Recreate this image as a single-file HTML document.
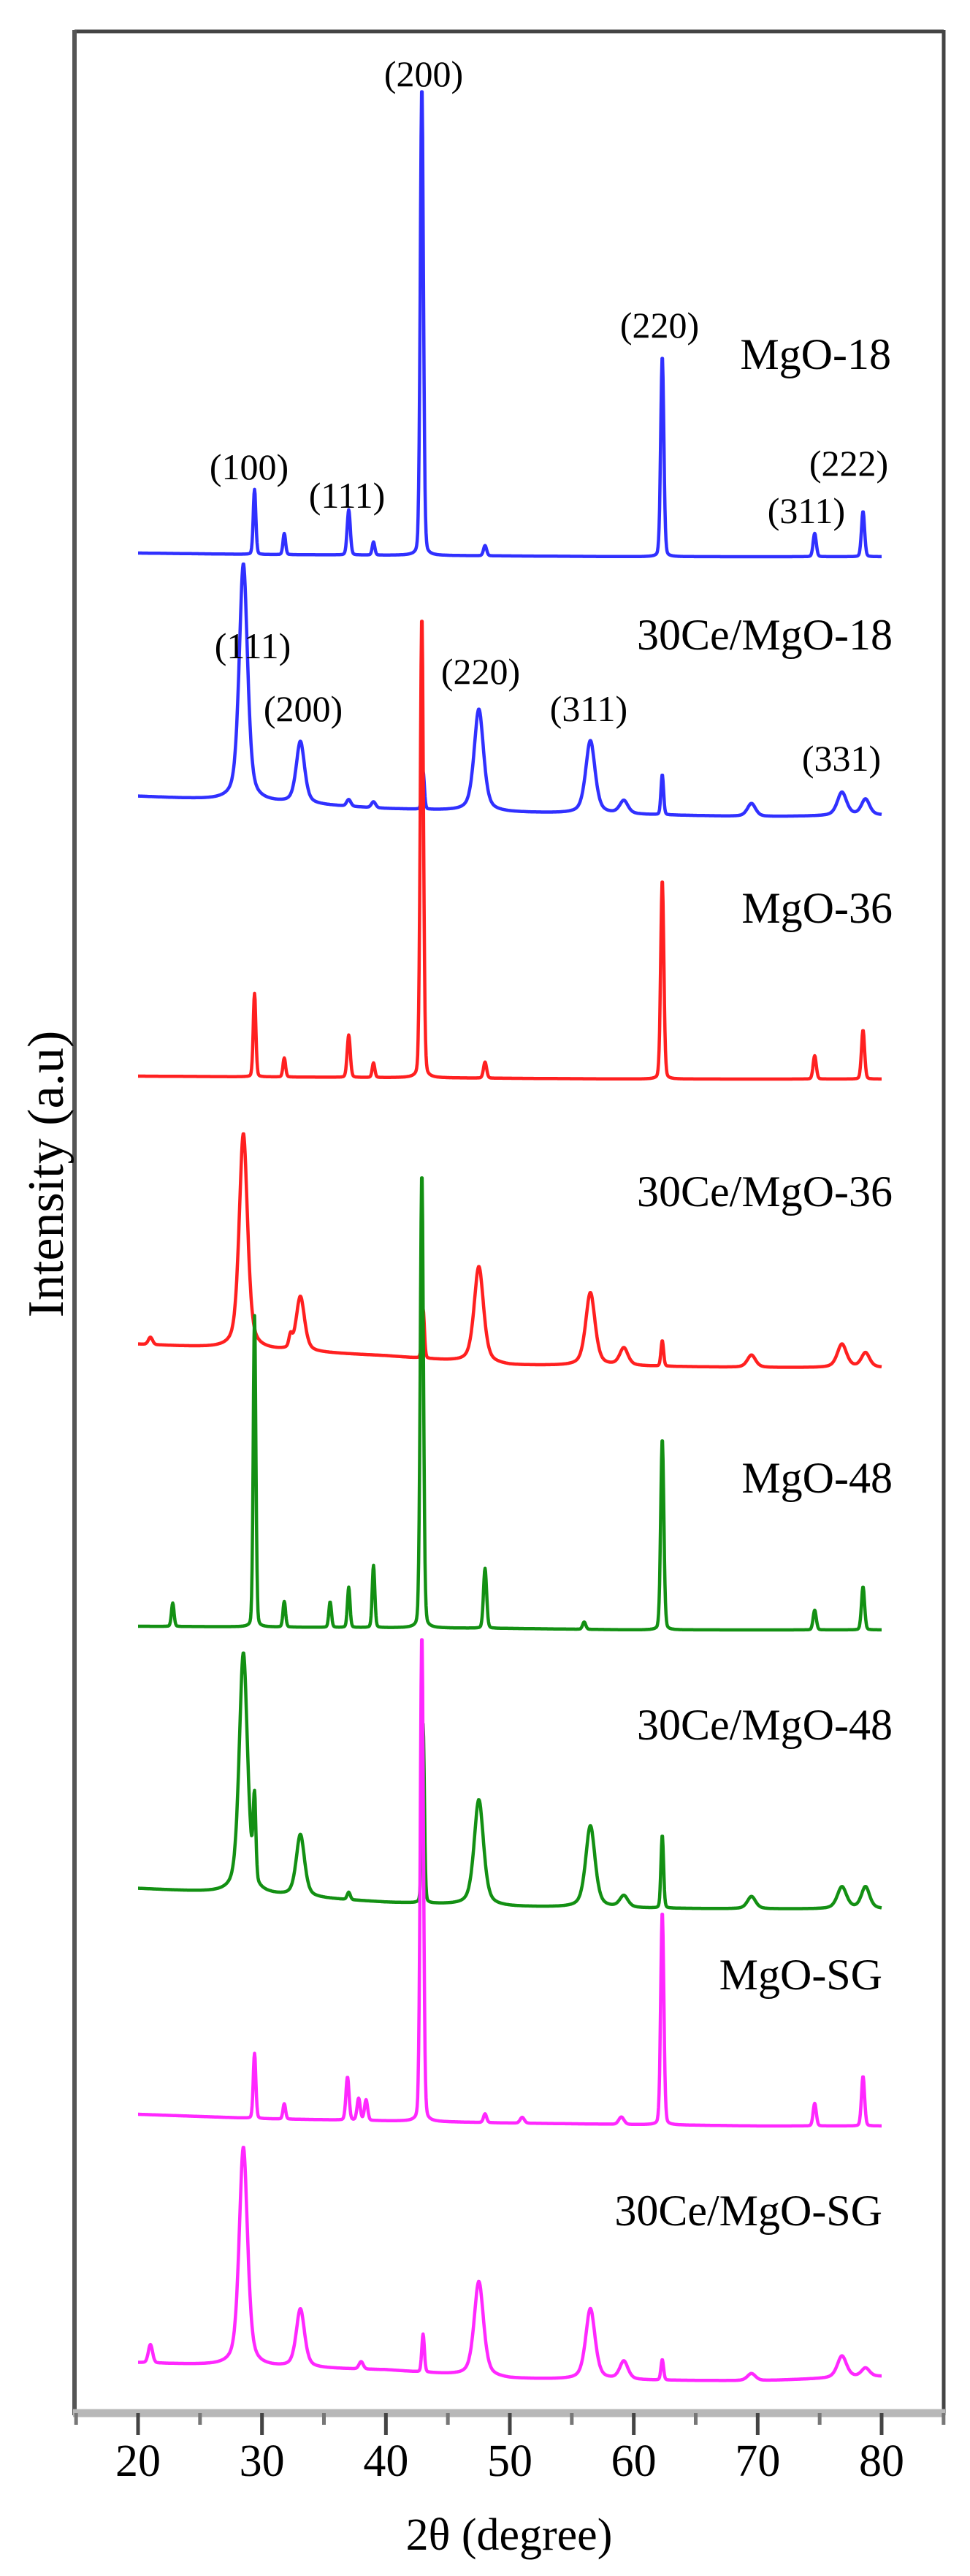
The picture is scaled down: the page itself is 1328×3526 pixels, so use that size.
<!DOCTYPE html>
<html><head><meta charset="utf-8">
<style>
html,body{margin:0;padding:0;background:#fff;}
svg{display:block;}
text{font-family:"Liberation Serif",serif;fill:#000;}
</style></head>
<body>
<svg id="chart" width="1328" height="3526" viewBox="0 0 1328 3526" xmlns="http://www.w3.org/2000/svg">
  <rect x="0" y="0" width="1328" height="3526" fill="#fff"/>
  <g id="series"></g>
  <g id="frame">
    <line x1="102" y1="43" x2="1292" y2="43" stroke="#444" stroke-width="5"/>
    <line x1="102" y1="41" x2="102" y2="3306" stroke="#555" stroke-width="6"/>
    <line x1="1292" y1="41" x2="1292" y2="3306" stroke="#444" stroke-width="5"/>
    <line x1="100" y1="3303" x2="1294" y2="3303" stroke="#b8b8b8" stroke-width="11"/>
  </g>
  <g id="xaxis"></g>
  <text x="697" y="3490" font-size="62" text-anchor="middle">2θ (degree)</text>
  <text transform="translate(86,1607) rotate(-90)" font-size="70" text-anchor="middle">Intensity (a.u)</text>
  <g id="labels">
    <text x="1220" y="505" font-size="60" text-anchor="end">MgO-18</text>
    <text x="1222" y="889" font-size="60" text-anchor="end">30Ce/MgO-18</text>
    <text x="1222" y="1263" font-size="60" text-anchor="end">MgO-36</text>
    <text x="1222" y="1651" font-size="60" text-anchor="end">30Ce/MgO-36</text>
    <text x="1222" y="2043" font-size="60" text-anchor="end">MgO-48</text>
    <text x="1222" y="2381" font-size="60" text-anchor="end">30Ce/MgO-48</text>
    <text x="1208" y="2723" font-size="60" text-anchor="end">MgO-SG</text>
    <text x="1208" y="3046" font-size="60" text-anchor="end">30Ce/MgO-SG</text>
  </g>
  <g id="hkl" font-size="50">
    <text x="580" y="118" text-anchor="middle" font-size="50">(200)</text>
    <text x="903" y="462" text-anchor="middle" font-size="50">(220)</text>
    <text x="341" y="656" text-anchor="middle" font-size="50">(100)</text>
    <text x="475" y="695" text-anchor="middle" font-size="50">(111)</text>
    <text x="1104" y="716" text-anchor="middle" font-size="50">(311)</text>
    <text x="1162" y="651" text-anchor="middle" font-size="50">(222)</text>
    <text x="346" y="901" text-anchor="middle" font-size="50">(111)</text>
    <text x="415" y="987" text-anchor="middle" font-size="50">(200)</text>
    <text x="658" y="936" text-anchor="middle" font-size="50">(220)</text>
    <text x="806" y="987" text-anchor="middle" font-size="50">(311)</text>
    <text x="1152" y="1055" text-anchor="middle" font-size="50">(331)</text>
  </g>
</svg>
<script>
// x-axis ticks
const majorTicks = [20, 30, 40, 50, 60, 70, 80];
const minorTicks = [15, 25, 35, 45, 55, 65, 75, 85];
// stacking offsets (a.u.) and background levels at 20,30,...,80
const bgX = [20, 30, 40, 50, 60, 70, 80];
const offsets = [2541, 2185, 1826, 1431, 1072, 690, 393, 44];
const colors = ['#3030ff', '#3030ff', '#ff2020', '#ff2020', '#139013', '#139013', '#ff28ff', '#ff28ff'];
const names = ['mgo-18', '30ce-mgo-18', 'mgo-36', '30ce-mgo-36', 'mgo-48', '30ce-mgo-48', 'mgo-sg', '30ce-mgo-sg'];
const bg0 = [5, 3, 2, 1, 0, 0, 0];
const bg1 = [28, 20, 11, 6, 3, 0, 2];
const bg2 = [4, 3, 2, 1, 0, 0, 0];
const bg3 = [32, 24, 16, 3, 2, 0, 0];
const bg4 = [5, 4, 3, 2, 0, 0, 0];
const bg5 = [28, 19, 9, 3, 1, 0, 0];
const bg6 = [16, 10, 7, 4, 2, 0, 0];
const bg7 = [25, 19, 15, 3, 1, 0, 6];
// peak positions (deg), heights (a.u.), widths (deg)
const pos0 = [29.4, 31.8, 37.0, 39.0, 42.9, 48.0, 62.3, 74.6, 78.5];
const hgt0 = [89, 29, 62, 18, 643, 14, 275, 32, 62];
const wid0 = [0.25, 0.25, 0.3, 0.25, 0.3, 0.3, 0.3, 0.3, 0.3];
const pos1 = [28.5, 33.1, 37.0, 39.0, 43.0, 47.5, 56.5, 59.2, 62.3, 69.5, 76.8, 78.7];
const hgt1 = [325, 85, 9, 8, 52, 140, 100, 18, 55, 18, 32, 22];
const wid1 = [0.8, 0.8, 0.4, 0.4, 0.25, 0.9, 0.9, 0.8, 0.25, 0.8, 0.9, 0.8];
const pos2 = [29.4, 31.8, 37.0, 39.0, 42.9, 48.0, 62.3, 74.6, 78.5];
const hgt2 = [114, 26, 58, 20, 633, 22, 273, 32, 67];
const wid2 = [0.25, 0.25, 0.3, 0.25, 0.3, 0.3, 0.3, 0.3, 0.3];
const pos3 = [21.0, 28.5, 32.3, 33.1, 43.0, 47.5, 56.5, 59.2, 62.3, 69.5, 76.8, 78.7];
const hgt3 = [10, 295, 15, 75, 68, 132, 100, 24, 35, 17, 32, 20];
const wid3 = [0.4, 0.8, 0.3, 0.8, 0.25, 0.9, 0.9, 0.8, 0.25, 0.8, 0.9, 0.8];
const pos4 = [22.8, 29.4, 31.8, 35.5, 37.0, 39.0, 42.9, 48.0, 56.0, 62.3, 74.6, 78.5];
const hgt4 = [32, 426, 35, 35, 55, 85, 624, 82, 10, 262, 27, 59];
const wid4 = [0.25, 0.25, 0.25, 0.25, 0.25, 0.25, 0.3, 0.3, 0.3, 0.3, 0.3, 0.3];
const pos5 = [28.5, 29.4, 33.1, 37.0, 43.0, 47.5, 56.5, 59.2, 62.3, 69.5, 76.8, 78.7];
const hgt5 = [330, 110, 85, 10, 245, 145, 112, 16, 100, 17, 30, 30];
const wid5 = [0.8, 0.25, 0.8, 0.3, 0.25, 0.9, 0.9, 0.8, 0.25, 0.8, 0.9, 0.8];
const pos6 = [29.4, 31.8, 36.9, 37.8, 38.4, 42.9, 48.0, 51.0, 59.0, 62.3, 74.6, 78.5];
const hgt6 = [89, 21, 59, 30, 28, 668, 12, 8, 10, 292, 31, 68];
const wid6 = [0.25, 0.25, 0.3, 0.3, 0.3, 0.3, 0.3, 0.4, 0.5, 0.3, 0.3, 0.3];
const pos7 = [21.0, 28.5, 33.1, 38.0, 43.0, 47.5, 56.5, 59.2, 62.3, 69.5, 76.8, 78.7];
const hgt7 = [25, 300, 80, 10, 52, 130, 97, 25, 28, 10, 30, 12];
const wid7 = [0.4, 0.8, 0.8, 0.4, 0.25, 0.9, 0.9, 0.8, 0.25, 0.8, 0.9, 0.8];

const bgs = [bg0, bg1, bg2, bg3, bg4, bg5, bg6, bg7];
const poss = [pos0, pos1, pos2, pos3, pos4, pos5, pos6, pos7];
const hgts = [hgt0, hgt1, hgt2, hgt3, hgt4, hgt5, hgt6, hgt7];
const wids = [wid0, wid1, wid2, wid3, wid4, wid5, wid6, wid7];

const NS = 'http://www.w3.org/2000/svg';
function xScale(d) { return 189 + (d - 20) * (1207 - 189) / 60; }
function yScale(v) { return 3303 - v; }

function bgAt(bg, x) {
  for (let i = 0; i < bgX.length - 1; i++) {
    if (x <= bgX[i + 1]) {
      const t = (x - bgX[i]) / (bgX[i + 1] - bgX[i]);
      return bg[i] + t * (bg[i + 1] - bg[i]);
    }
  }
  return bg[bg.length - 1];
}
function profile(s, x) {
  let v = bgAt(bgs[s], x);
  const p = poss[s], h = hgts[s], w = wids[s];
  for (let i = 0; i < p.length; i++) {
    const hw = w[i] / 2;
    const d = (x - p[i]) / hw;
    const g = Math.exp(-0.693 * d * d);
    const l = 1 / (1 + d * d);
    const eta = w[i] > 0.5 ? 0.5 : 0.15;
    v += h[i] * (eta * l + (1 - eta) * g);
  }
  return v;
}

const sg = document.getElementById('series');
for (let s = 0; s < offsets.length; s++) {
  let d = '';
  for (let x = 20; x <= 80.001; x += 0.04) {
    const px = xScale(x), py = yScale(offsets[s] + profile(s, x));
    d += (d ? 'L' : 'M') + px.toFixed(1) + ' ' + py.toFixed(1);
  }
  const path = document.createElementNS(NS, 'path');
  path.setAttribute('d', d);
  path.setAttribute('fill', 'none');
  path.setAttribute('stroke', colors[s]);
  path.setAttribute('stroke-width', '4.5');
  path.setAttribute('stroke-linejoin', 'round');
  
  
  sg.appendChild(path);
}

const xa = document.getElementById('xaxis');
majorTicks.forEach(function (t) {
  const ln = document.createElementNS(NS, 'line');
  ln.setAttribute('x1', xScale(t)); ln.setAttribute('x2', xScale(t));
  ln.setAttribute('y1', 3303); ln.setAttribute('y2', 3333);
  ln.setAttribute('stroke', '#444'); ln.setAttribute('stroke-width', '5');
  
  
  xa.appendChild(ln);
  const tx = document.createElementNS(NS, 'text');
  tx.setAttribute('x', xScale(t)); tx.setAttribute('y', 3389);
  tx.setAttribute('font-size', '62'); tx.setAttribute('text-anchor', 'middle');
  tx.textContent = String(t);
  
  
  xa.appendChild(tx);
});
minorTicks.forEach(function (t) {
  const ln = document.createElementNS(NS, 'line');
  ln.setAttribute('x1', xScale(t)); ln.setAttribute('x2', xScale(t));
  ln.setAttribute('y1', 3303); ln.setAttribute('y2', 3319);
  ln.setAttribute('stroke', '#777'); ln.setAttribute('stroke-width', '5');
  
  
  xa.appendChild(ln);
});
</script>
</body></html>
